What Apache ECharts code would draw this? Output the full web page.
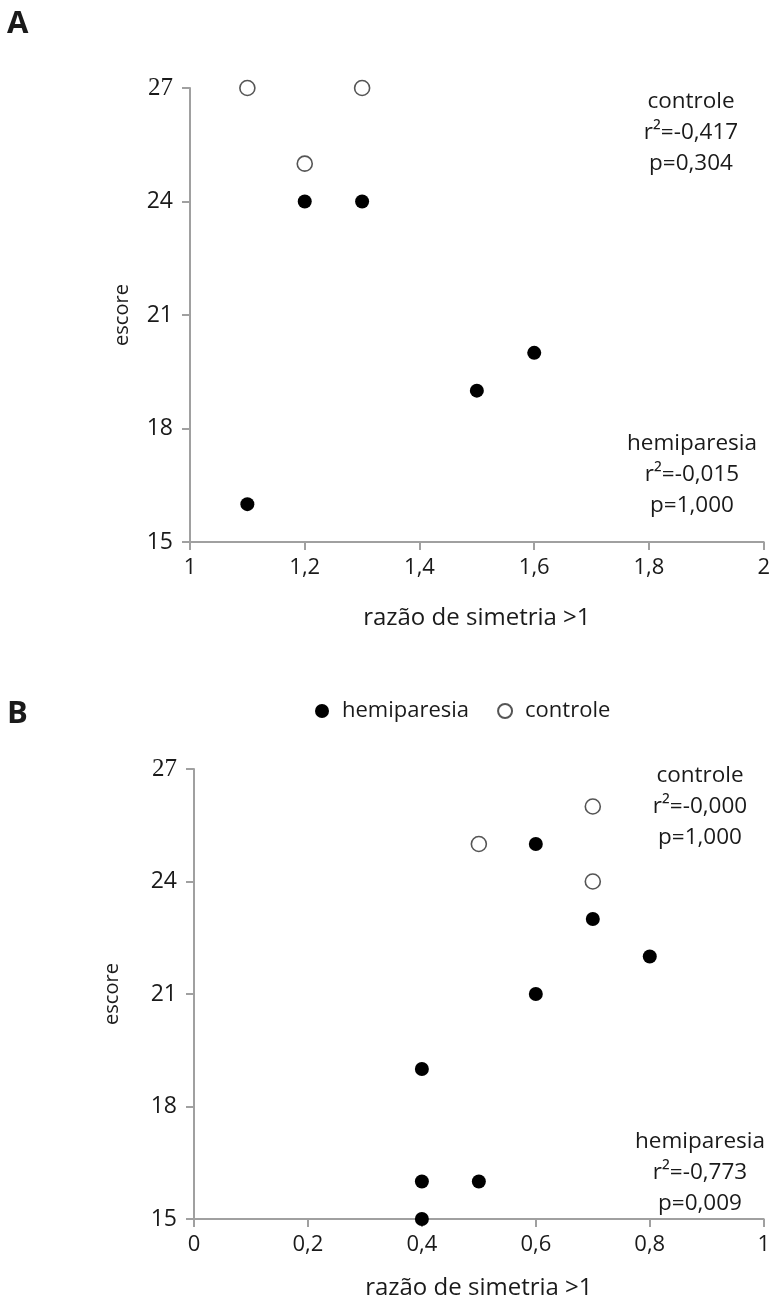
<!DOCTYPE html>
<html>
<head>
<meta charset="utf-8">
<script src="https://cdn.jsdelivr.net/npm/echarts@6/dist/echarts.min.js"></script>
<style>
html,body{margin:0;padding:0;background:#fff;}
#c{width:773px;height:1307px;}
</style>
</head>
<body>
<div id="c"></div>
<script>
// Chart A data: [razão de simetria, escore]
var hemiA = [[1.1,16],[1.2,24],[1.3,24],[1.5,19],[1.6,20]];
var ctrlA = [[1.1,27],[1.2,25],[1.3,27]];
// Chart B data
var hemiB = [[0.4,15],[0.4,16],[0.5,16],[0.4,19],[0.6,21],[0.6,25],[0.7,23],[0.8,22]];
var ctrlB = [[0.5,25],[0.7,26],[0.7,24]];
var yTicks = [15,18,21,24,27];
var statsA = {controle:['controle','r²=-0,417','p=0,304'], hemiparesia:['hemiparesia','r²=-0,015','p=1,000']};
var statsB = {controle:['controle','r²=-0,000','p=1,000'], hemiparesia:['hemiparesia','r²=-0,773','p=0,009']};

var FONT = '"Open Sans", sans-serif';
var FS = 21;
var TXT = '#1a1a1a';
var AX = '#a0a0a0';

function xFmt(v){ return Number(v.toFixed(1)).toString().replace('.', ','); }
function yFmt(v){ return v === 27 ? '{s|27}' : String(v); }

function xAxis(idx, min, max, gap){
  return {
    gridIndex: idx, type:'value', min:min, max:max, interval:0.2,
    name:'razão de simetria >1', nameLocation:'middle', nameGap:gap,
    nameTextStyle:{fontFamily:FONT, fontSize:24, color:TXT},
    axisLine:{show:true, lineStyle:{color:AX, width:2}},
    axisTick:{show:true, inside:false, length:8, lineStyle:{color:AX, width:2}},
    axisLabel:{fontFamily:FONT, fontSize:22, color:TXT, margin:15, formatter:xFmt},
    splitLine:{show:false}
  };
}
function yAxis(idx, gap){
  return {
    gridIndex: idx, type:'value', min:15, max:27, interval:3,
    name:'escore', nameLocation:'middle', nameGap:gap, nameRotate:90,
    nameTextStyle:{fontFamily:FONT, fontSize:20, color:TXT},
    axisLine:{show:true, onZero:false, lineStyle:{color:AX, width:2}},
    axisTick:{show:true, inside:false, length:8, lineStyle:{color:AX, width:2}},
    axisLabel:{fontFamily:FONT, fontSize:23, color:TXT, margin:17, formatter:yFmt,
      rich:{s:{fontFamily:'"Liberation Serif", serif', fontSize:25, color:TXT}}},
    splitLine:{show:false}
  };
}

var filled = {color:'#000', borderColor:'#000', borderWidth:0, opacity:1};
var hollow = {color:'#fff', borderColor:'#555', borderWidth:1.6, opacity:1};
var statFont = '22.5px ' + FONT;

var chart = echarts.init(document.getElementById('c'), null, {renderer:'canvas'});
chart.setOption({
  animation:false,
  backgroundColor:'#fff',
  grid:[
    {left:190, right:8, top:88, height:454},
    {left:194, right:7, top:769, height:450}
  ],
  xAxis:[ xAxis(0, 1, 2, 64), xAxis(1, 0, 1, 57) ],
  yAxis:[ yAxis(0, 58), yAxis(1, 72) ],
  legend:{
    data:['hemiparesia','controle'], top:695, left:310,
    itemWidth:14, itemHeight:14, itemGap:28,
    textStyle:{fontFamily:FONT, fontSize:22, color:TXT, padding:[0,0,0,8]}
  },
  graphic:[
    {type:'text', left:7, top:9, style:{text:'A', font:'bold 31px ' + FONT, fill:TXT}},
    {type:'text', left:7, top:699, style:{text:'B', font:'bold 31px ' + FONT, fill:TXT}},
    {type:'text', x:691, y:86, style:{text:statsA.controle.join('\n'), font:statFont, fill:TXT, align:'center', lineHeight:31}},
    {type:'text', x:692, y:428, style:{text:statsA.hemiparesia.join('\n'), font:statFont, fill:TXT, align:'center', lineHeight:31}},
    {type:'text', x:700, y:760, style:{text:statsB.controle.join('\n'), font:statFont, fill:TXT, align:'center', lineHeight:31}},
    {type:'text', x:700, y:1126, style:{text:statsB.hemiparesia.join('\n'), font:statFont, fill:TXT, align:'center', lineHeight:31}}
  ],
  series:[
    {name:'hemiparesia', type:'scatter', xAxisIndex:0, yAxisIndex:0, data:hemiA, symbol:'circle', symbolSize:14, itemStyle:filled},
    {name:'controle', type:'scatter', xAxisIndex:0, yAxisIndex:0, data:ctrlA, symbol:'circle', symbolSize:15, itemStyle:hollow},
    {name:'hemiparesia', type:'scatter', xAxisIndex:1, yAxisIndex:1, data:hemiB, symbol:'circle', symbolSize:14, itemStyle:filled},
    {name:'controle', type:'scatter', xAxisIndex:1, yAxisIndex:1, data:ctrlB, symbol:'circle', symbolSize:15, itemStyle:hollow}
  ]
});
</script>
</body>
</html>
